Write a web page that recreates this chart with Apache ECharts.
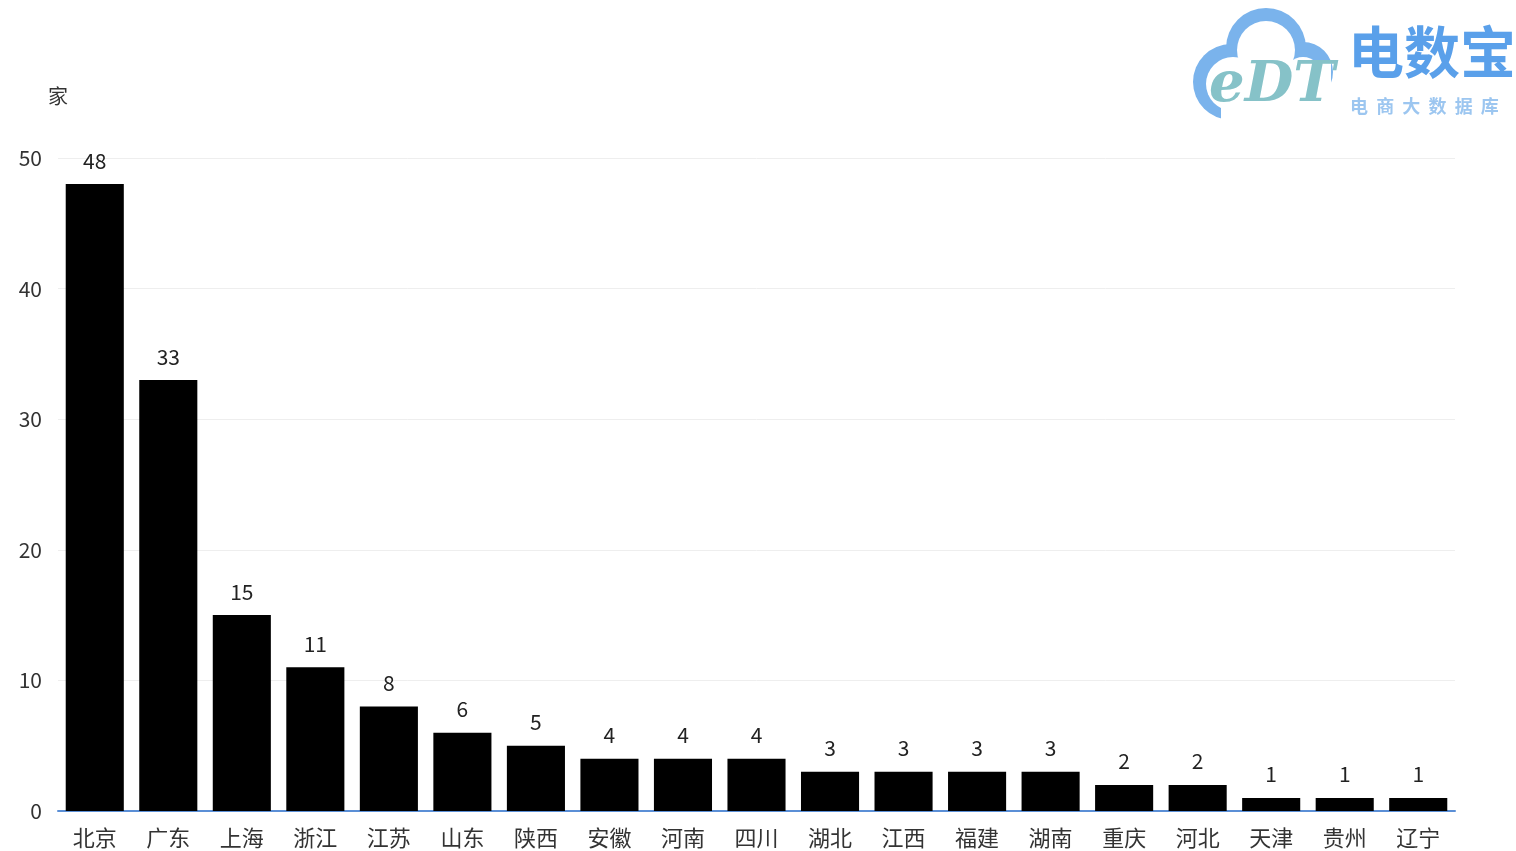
<!DOCTYPE html>
<html><head><meta charset="utf-8">
<script src="https://cdn.jsdelivr.net/npm/echarts@6/dist/echarts.min.js"></script>
<style>html,body{margin:0;padding:0;background:#fff}#c{width:1516px;height:851px}</style>
</head><body><div id="c"></div>
<script>
var categories = ['北京','广东','上海','浙江','江苏','山东','陕西','安徽','河南','四川','湖北','江西','福建','湖南','重庆','河北','天津','贵州','辽宁'];
var values = [48,33,15,11,8,6,5,4,4,4,3,3,3,3,2,2,1,1,1];
var unitName = '家';
var yTicks = {min:0, max:50, interval:10};

var chart = echarts.init(document.getElementById('c'));
var font = '"Noto Sans CJK SC", "Microsoft YaHei", sans-serif';
var blue = '#7ab3ec';
chart.setOption({
  animation:false,
  grid:{left:58, right:61, top:158, bottom:40},
  xAxis:{type:'category', data:categories,
    axisLine:{lineStyle:{color:'#5b8fd6', width:2}}, axisTick:{show:false},
    axisLabel:{color:'#333', fontSize:22, fontFamily:font, margin:16}},
  yAxis:{type:'value', min:yTicks.min, max:yTicks.max, interval:yTicks.interval,
    name:unitName, nameLocation:'end', nameGap:52,
    nameTextStyle:{color:'#333', fontSize:20, fontFamily:font, align:'center'},
    axisLine:{show:false}, axisTick:{show:false},
    axisLabel:{color:'#333', fontSize:21, fontFamily:font, margin:16},
    splitLine:{lineStyle:{color:'#eeeeee'}}},
  series:[{type:'bar', data:values, barCategoryGap:'21%',
    itemStyle:{color:'#000'},
    label:{show:true, position:'top', color:'#222', fontSize:21, fontFamily:font, distance:13}}],
  graphic:[
    {type:'group', left:1193, top:8, children:[
      {type:'circle', shape:{cx:75, cy:48, r:40}, style:{fill:blue}},
      {type:'circle', shape:{cx:40, cy:82, r:38}, style:{fill:blue}},
      {type:'circle', shape:{cx:112, cy:72, r:30}, style:{fill:blue}},
      {type:'circle', shape:{cx:75, cy:50, r:29}, style:{fill:'#fff'}},
      {type:'circle', shape:{cx:42, cy:84, r:27}, style:{fill:'#fff'}},
      {type:'circle', shape:{cx:112, cy:76, r:19}, style:{fill:'#fff'}},
      {type:'rect', shape:{x:30, y:60, width:110, height:60}, style:{fill:'#fff'}},
      {type:'text', style:{x:18, y:58, text:'eDT', fill:'#86c2c8', font:'bold italic 56px "DejaVu Serif", serif'}},
      {type:'text', style:{x:157, y:24, text:'电数宝', fill:'#5aa0ea', font:'bold 56px "Noto Sans CJK SC", sans-serif'}},
      {type:'text', style:{x:159, y:97, text:'电  商  大  数  据  库', fill:'#9cc6f0', font:'bold 18px "Noto Sans CJK SC", sans-serif'}}
    ]}
  ]
});
</script></body></html>
